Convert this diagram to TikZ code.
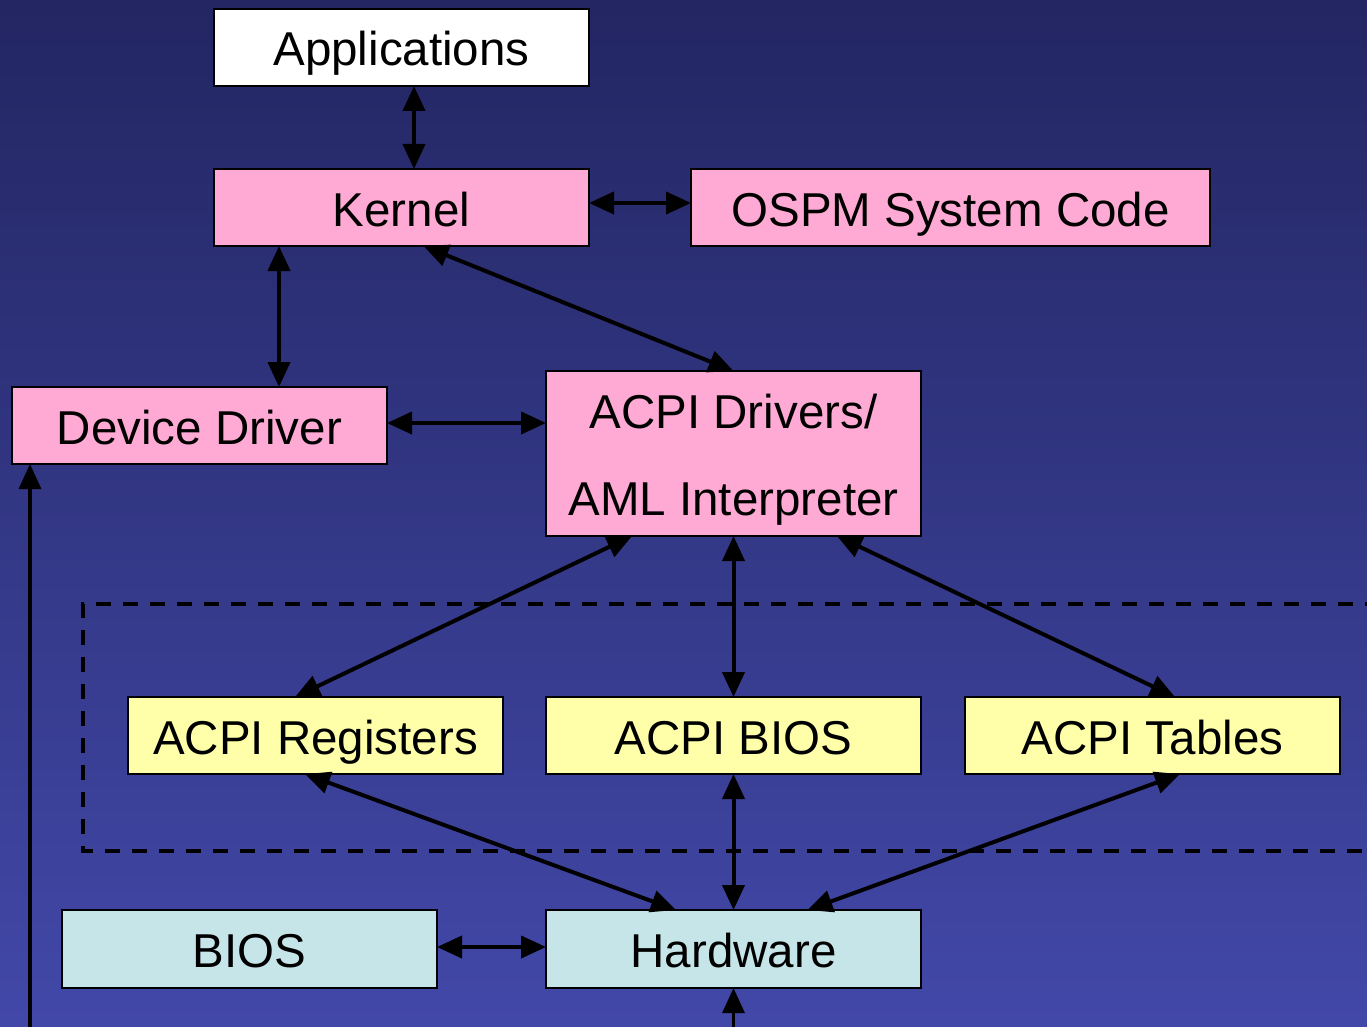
\documentclass[tikz,border=0pt]{standalone}
\usepackage{fontspec}
\setmainfont{Liberation Sans}
\usetikzlibrary{arrows.meta,calc}
\definecolor{bgtop}{RGB}{35,38,98}
\definecolor{bgbot}{RGB}{66,72,168}
\definecolor{pinkbox}{RGB}{255,170,212}
\definecolor{yellowbox}{RGB}{255,255,170}
\definecolor{cyanbox}{RGB}{197,229,232}
\tikzset{
  box/.style={draw=black, line width=2pt, rectangle, inner sep=0pt, outer sep=0pt,
    minimum width=375pt, minimum height=77pt, text=black,
    font=\fontsize{47.5}{87}\selectfont, align=center,
    text height=37pt, text depth=0pt},
  conn/.style={line width=4pt, draw=black, {Triangle[length=25pt,width=22pt]}-{Triangle[length=25pt,width=22pt]}},
  oneway/.style={line width=3.2pt, draw=black, -{Triangle[length=25pt,width=22pt]}},
  groupline/.style={draw=black, line width=3.5pt, dash pattern=on 15pt off 12pt}
}
\begin{document}
\begin{tikzpicture}[x=1pt,y=-1pt]
\useasboundingbox (0,0) rectangle (1367,1027);
\fill[top color=bgtop,bottom color=bgbot] (0,0) rectangle (1367,1027);
\begin{scope}
\clip (0,0) rectangle (1367,1027);
\draw[groupline] (1380,604) -- (83,604) -- (83,851) -- (1380,851);
\end{scope}
% nodes
\node[box, fill=white] (app) at (401.5,47.5) {Applications};
\node[box, fill=pinkbox] (kernel) at (401.5,207.5) {Kernel};
\node[box, fill=pinkbox, minimum width=519pt] (ospm) at (950.5,207.5) {OSPM System Code};
\node[box, fill=pinkbox] (dd) at (199.5,425.5) {Device Driver};
\node[box, fill=pinkbox, minimum height=165pt, text height=123pt, text depth=0pt] (acpi) at (733.5,453.5) {ACPI Drivers/\\AML Interpreter};
\node[box, fill=yellowbox] (reg) at (315.5,735.5) {ACPI Registers};
\node[box, fill=yellowbox] (abios) at (733.5,735.5) {ACPI BIOS};
\node[box, fill=yellowbox] (tables) at (1152.5,735.5) {ACPI Tables};
\node[box, fill=cyanbox, minimum height=78pt] (bios) at (249.5,949) {BIOS};
\node[box, fill=cyanbox, minimum height=78pt] (hw) at (733.5,949) {Hardware};
\coordinate (lb) at (30,1027);
\coordinate (hb) at (733.5,1027);
% connectors
\draw[conn] ($(app.south)+(12.5,0)$) -- ($(kernel.north)+(12.5,0)$);
\draw[conn] ($(kernel.east)+(0,-4.5)$) -- ($(ospm.west)+(0,-4.5)$);
\draw[conn] ($(kernel.south)+(-122.5,0)$) -- ($(dd.north)+(79.5,0)$);
\draw[conn] ($(kernel.south)+(22,0)$) -- (acpi.north);
\draw[conn] ($(dd.east)+(0,-2.5)$) -- ($(dd.east -| acpi.west)+(0,-2.5)$);
\draw[conn] ($(acpi.south)+(-101.5,0)$) -- ($(reg.north)+(-20.5,0)$);
\draw[conn] (acpi.south) -- (abios.north);
\draw[conn] ($(acpi.south)+(103.5,0)$) -- ($(tables.north)+(22.5,0)$);
\draw[conn] ($(reg.south)+(-10.5,0)$) -- ($(hw.north)+(-57.5,0)$);
\draw[conn] (abios.south) -- (hw.north);
\draw[conn] ($(tables.south)+(27.5,0)$) -- ($(hw.north)+(74,0)$);
\draw[conn] ($(bios.east)+(0,-2)$) -- ($(hw.west)+(0,-2)$);
\draw[oneway] (lb) -- (lb |- dd.south);
\draw[oneway] (hb) -- (hw.south);
\end{tikzpicture}
\end{document}
